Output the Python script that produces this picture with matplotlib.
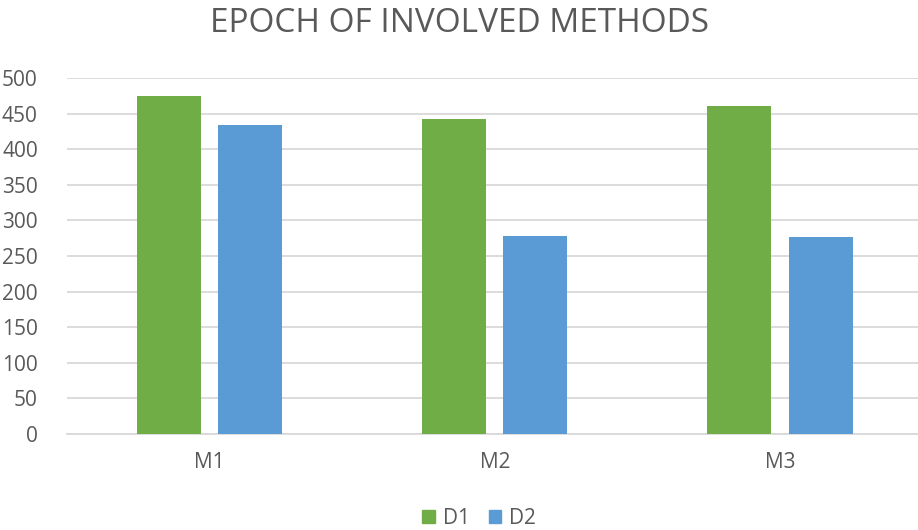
import matplotlib.pyplot as plt
import numpy as np
from matplotlib.patches import Patch

methods = ["M1", "M2", "M3"]
d1 = [475, 443, 460]
d2 = [434, 278, 276]
yticks = [0, 50, 100, 150, 200, 250, 300, 350, 400, 450, 500]

green = "#70AD47"
blue = "#5B9BD5"
txt = "#595959"

plt.rcParams["font.family"] = ["Open Sans", "DejaVu Sans"]

fig = plt.figure(figsize=(9.18, 5.30), dpi=100)
ax = fig.add_axes([67 / 918, 1 - 434 / 530, 1 - 67 / 918, (434 - 78) / 530])

x = np.arange(len(methods))
w = 0.224
ax.bar(x - 0.143, d1, w, color=green, zorder=3)
ax.bar(x + 0.142, d2, w, color=blue, zorder=3)

ax.set_xlim(-0.5, 2.483)
ax.set_ylim(0, 500)
ax.set_yticks(yticks)
ax.set_xticks(x)
ax.set_xticklabels(methods)
ax.grid(axis="y", color="#D9D9D9", linewidth=1.3, zorder=0)
for s in ["top", "right", "left"]:
    ax.spines[s].set_visible(False)
ax.spines["bottom"].set_color("#D9D9D9")
ax.spines["bottom"].set_linewidth(1.3)
ax.tick_params(length=0, labelsize=15, colors=txt)
ax.tick_params(axis="y", pad=21)
ax.tick_params(axis="x", pad=13)

fig.text(0.5, 1 - 24 / 530, "EPOCH OF INVOLVED METHODS", ha="center", va="center",
         fontsize=24, color=txt)

handles = [Patch(color=green, label="D1"), Patch(color=blue, label="D2")]
fig.legend(handles=handles, loc="center", bbox_to_anchor=(0.522, 1 - 518 / 530),
           ncol=2, frameon=False, fontsize=15, labelcolor=txt,
           handlelength=0.6, handleheight=0.6, handletextpad=0.4, columnspacing=0.9)

fig.savefig("out.png", dpi=100)
